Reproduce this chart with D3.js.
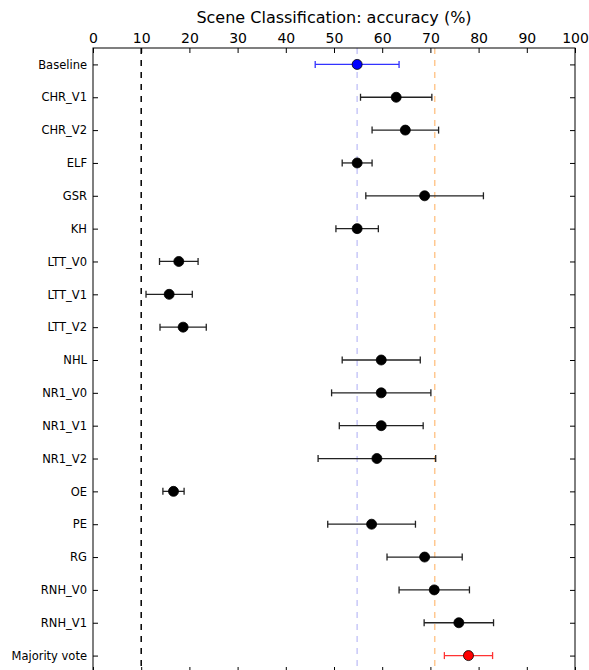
<!DOCTYPE html>
<html>
<head>
<meta charset="utf-8">
<script src="https://cdn.jsdelivr.net/npm/d3@7"></script>
<style>
  body { margin: 0; background: #fff; }
  svg { display: block; font-family: "DejaVu Sans", sans-serif; }
</style>
</head>
<body>
<svg id="chart"></svg>
<script>
const methods = ["Baseline", "CHR_V1", "CHR_V2", "ELF", "GSR", "KH", "LTT_V0", "LTT_V1", "LTT_V2", "NHL", "NR1_V0", "NR1_V1", "NR1_V2", "OE", "PE", "RG", "RNH_V0", "RNH_V1", "Majority vote"];
const meanAcc = [54.8, 62.9, 64.8, 54.8, 68.8, 54.8, 17.8, 15.8, 18.7, 59.8, 59.8, 59.8, 58.9, 16.7, 57.8, 68.8, 70.8, 75.9, 77.9];
const errAcc = [8.7, 7.4, 6.9, 3.1, 12.2, 4.4, 4.0, 4.8, 4.8, 8.1, 10.3, 8.7, 12.2, 2.2, 9.1, 7.8, 7.3, 7.2, 5.0];
const xTicks = [0, 10, 20, 30, 40, 50, 60, 70, 80, 90, 100];
const refLines = [10, 54.8, 70.9];

const width = 589;
const height = 670;
const margin = { top: 48, right: 14, bottom: -2, left: 93 };

const svg = d3.select("#chart").attr("width", width).attr("height", height);

const xScale = d3.scaleLinear().domain([0, 100]).range([margin.left, width - margin.right]);
const yScale = d3.scalePoint().domain(methods).range([margin.top, height - margin.bottom]).padding(0.5);

const plotTop = margin.top;
const plotBottom = height - margin.bottom;
const plotLeft = margin.left;
const plotRight = width - margin.right;

// reference lines
const refColors = ["#000000", "#c8c8f8", "#ffc890"];
svg
  .selectAll(".ref")
  .data(refLines)
  .enter()
  .append("line")
  .attr("class", "ref")
  .attr("x1", (d) => xScale(d))
  .attr("x2", (d) => xScale(d))
  .attr("y1", plotTop)
  .attr("y2", plotBottom)
  .attr("stroke", (d, i) => refColors[i])
  .attr("stroke-width", 1.5)
  .attr("stroke-dasharray", "6,6");

const colorOf = (i) => (i === 0 ? "#0000ff" : i === methods.length - 1 ? "#ff0000" : "#000000");
const barColorOf = (i) => (i === 0 ? "#3333ff" : i === methods.length - 1 ? "#ff3333" : "#222222");

const rows = methods.map((m, i) => ({ m, mean: meanAcc[i], err: errAcc[i], i }));

const g = svg.selectAll(".row").data(rows).enter().append("g").attr("class", "row");

g.append("line")
  .attr("x1", (d) => xScale(d.mean - d.err))
  .attr("x2", (d) => xScale(d.mean + d.err))
  .attr("y1", (d) => yScale(d.m))
  .attr("y2", (d) => yScale(d.m))
  .attr("stroke", (d) => barColorOf(d.i))
  .attr("stroke-width", 1.3);

[-1, 1].forEach((s) => {
  g.append("line")
    .attr("x1", (d) => xScale(d.mean + s * d.err))
    .attr("x2", (d) => xScale(d.mean + s * d.err))
    .attr("y1", (d) => yScale(d.m) - 3.5)
    .attr("y2", (d) => yScale(d.m) + 3.5)
    .attr("stroke", (d) => barColorOf(d.i))
    .attr("stroke-width", 1.3);
});

g.append("circle")
  .attr("cx", (d) => xScale(d.mean))
  .attr("cy", (d) => yScale(d.m))
  .attr("r", 5)
  .attr("fill", (d) => colorOf(d.i))
  .attr("stroke", "#000")
  .attr("stroke-width", 0.8);

// axes
const topAxis = d3.axisTop(xScale).tickValues(xTicks).tickSizeInner(-5).tickSizeOuter(0).tickPadding(5);
svg
  .append("g")
  .attr("transform", `translate(0, ${plotTop})`)
  .call(topAxis)
  .call((a) => a.selectAll("text").attr("font-size", 14).attr("fill", "#000").attr("font-family", "DejaVu Sans"));

const bottomAxis = d3.axisBottom(xScale).tickValues(xTicks).tickSizeInner(-5).tickSizeOuter(0).tickFormat("");
svg.append("g").attr("transform", `translate(0, ${plotBottom})`).call(bottomAxis);

const leftAxis = d3.axisLeft(yScale).tickSizeInner(-5).tickSizeOuter(0).tickPadding(6);
svg
  .append("g")
  .attr("transform", `translate(${plotLeft}, 0)`)
  .call(leftAxis)
  .call((a) => a.selectAll("text").attr("font-size", 11.5).attr("fill", "#000").attr("font-family", "DejaVu Sans"));

const rightAxis = d3.axisRight(yScale).tickSizeInner(-5).tickSizeOuter(0).tickFormat("");
svg.append("g").attr("transform", `translate(${plotRight}, 0)`).call(rightAxis);

svg.selectAll(".domain").remove();
svg.selectAll(".tick line").attr("stroke", "#000");

svg
  .append("rect")
  .attr("x", plotLeft)
  .attr("y", plotTop)
  .attr("width", plotRight - plotLeft)
  .attr("height", plotBottom - plotTop)
  .attr("fill", "none")
  .attr("stroke", "#000")
  .attr("stroke-width", 1);

svg
  .append("text")
  .attr("x", (plotLeft + plotRight) / 2)
  .attr("y", 23)
  .attr("text-anchor", "middle")
  .attr("font-size", 16)
  .text("Scene Classification: accuracy (%)");
</script>
</body>
</html>
